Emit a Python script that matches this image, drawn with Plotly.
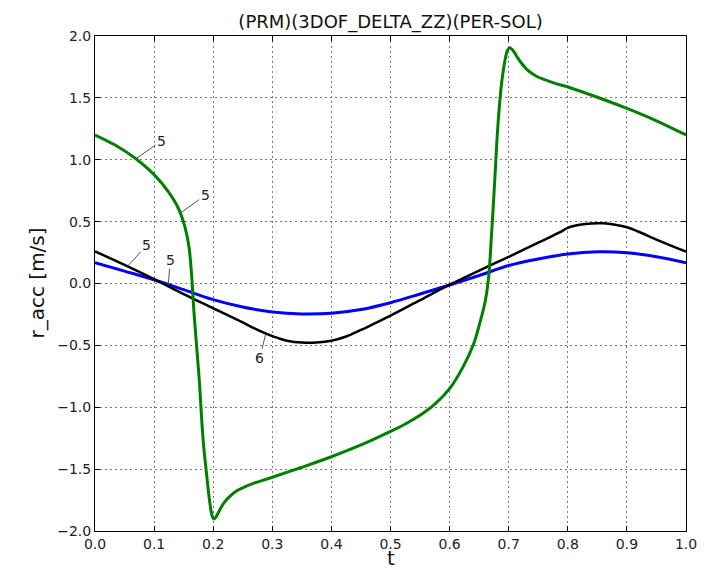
import numpy as np
import plotly.graph_objects as go

# --- series: t vs r_acc ---
green_t = [0.0, 0.034, 0.068, 0.100, 0.124, 0.141, 0.152, 0.159, 0.1636, 0.167,
           0.171, 0.176, 0.183, 0.189, 0.194, 0.198, 0.201, 0.205, 0.211, 0.217,
           0.228, 0.240, 0.255, 0.268, 0.300, 0.350, 0.400, 0.450, 0.500, 0.525,
           0.550, 0.575, 0.600, 0.623, 0.640, 0.651, 0.660, 0.666, 0.671, 0.676,
           0.680, 0.684, 0.688, 0.694, 0.698, 0.702, 0.707, 0.713, 0.720, 0.733,
           0.747, 0.775, 0.804, 0.850, 0.900, 0.950, 1.0]
green_v = [1.20, 1.119, 1.012, 0.88, 0.742, 0.608, 0.459, 0.297, 0.06, -0.2,
           -0.45, -0.75, -1.265, -1.55, -1.76, -1.875, -1.903, -1.885, -1.83, -1.78,
           -1.72, -1.675, -1.64, -1.615, -1.566, -1.485, -1.40, -1.305, -1.195, -1.135,
           -1.065, -0.975, -0.85, -0.672, -0.497, -0.322, -0.15, 0.05, 0.40, 0.80,
           1.15, 1.42, 1.62, 1.81, 1.885, 1.906, 1.885, 1.84, 1.79, 1.72,
           1.675, 1.623, 1.582, 1.505, 1.415, 1.315, 1.20]

black_t = [0.0, 0.05, 0.10, 0.15, 0.20, 0.25, 0.275, 0.30, 0.325, 0.35, 0.375,
           0.40, 0.425, 0.45, 0.475, 0.50, 0.55, 0.60, 0.65, 0.70, 0.75, 0.787,
           0.80, 0.82, 0.84, 0.86, 0.88, 0.90, 0.92, 0.95, 1.0]
black_v = [0.26, 0.15, 0.035, -0.085, -0.20, -0.315, -0.375, -0.425, -0.462, -0.477,
           -0.476, -0.462, -0.428, -0.375, -0.318, -0.26, -0.135, -0.01, 0.105, 0.215,
           0.33, 0.415, 0.45, 0.474, 0.485, 0.486, 0.475, 0.455, 0.418, 0.355, 0.257]

blue_t = [0.0, 0.05, 0.10, 0.15, 0.20, 0.25, 0.30, 0.35, 0.40, 0.45, 0.50, 0.55,
          0.60, 0.65, 0.70, 0.75, 0.80, 0.85, 0.90, 0.95, 1.0]
blue_v = [0.168, 0.10, 0.03, -0.05, -0.13, -0.19, -0.23, -0.246, -0.24, -0.21,
          -0.155, -0.085, -0.012, 0.065, 0.145, 0.198, 0.238, 0.256, 0.249, 0.217, 0.168]

# inline level labels: text, which series, t where the leader touches the curve
label_text = ["5", "5", "5", "5", "6"]
label_series = ["green", "green", "black", "blue", "black"]
label_t = [0.069, 0.144, 0.055, 0.124, 0.289]

x_ticks = [0.0, 0.1, 0.2, 0.3, 0.4, 0.5, 0.6, 0.7, 0.8, 0.9, 1.0]
y_ticks = [-2.0, -1.5, -1.0, -0.5, 0.0, 0.5, 1.0, 1.5, 2.0]

series = {
    "blue": (blue_t, blue_v, "#0000ff", 3),
    "black": (black_t, black_v, "#000000", 2.5),
    "green": (green_t, green_v, "#008000", 3),
}

FONT = "DejaVu Sans"
fig = go.Figure()
for name in ["blue", "black", "green"]:
    t, v, col, w = series[name]
    fig.add_trace(go.Scatter(x=t, y=v, mode="lines", name=name,
                             line=dict(color=col, width=w, shape="spline", smoothing=1.0),
                             showlegend=False, hoverinfo="skip"))

# leader-line offsets (px) of each label from its anchor on the curve
label_offsets = [(26, -18), (25, -18), (19, -21), (2, -25), (-6, 25)]
for txt, s, tt, (dx, dy) in zip(label_text, label_series, label_t, label_offsets):
    t, v, _, _ = series[s]
    fig.add_annotation(x=tt, y=float(np.interp(tt, t, v)), text=txt, showarrow=True,
                       ax=dx, ay=dy, arrowhead=0, arrowwidth=1, arrowcolor="#555555",
                       standoff=0, font=dict(family=FONT, size=14, color="#222222"))

# axis titles
fig.add_annotation(text="t", xref="paper", yref="paper", x=0.5, y=0, yshift=-27,
                   xanchor="center", yanchor="middle", showarrow=False,
                   font=dict(family=FONT, size=20, color="#111111"))
fig.add_annotation(text="r_acc [m/s]", xref="paper", yref="paper", x=0, y=0.5, xshift=-59,
                   xanchor="center", yanchor="middle", textangle=-90, showarrow=False,
                   font=dict(family=FONT, size=20, color="#111111"))

axis_common = dict(showline=True, linecolor="black", linewidth=1, mirror="ticks",
                   ticks="inside", ticklen=5, tickcolor="black", tickwidth=1,
                   showgrid=True, gridcolor="#777777", gridwidth=1, griddash="2px,3px",
                   zeroline=False, automargin=False,
                   tickfont=dict(family=FONT, size=14, color="#222222"))

fig.update_xaxes(range=[0, 1], tickvals=x_ticks, tickformat=".1f", **axis_common)
fig.update_yaxes(range=[-2, 2], tickvals=y_ticks, tickformat=".1f", **axis_common)

fig.update_layout(
    width=712, height=570,
    margin=dict(l=95, r=26, t=36, b=39),
    paper_bgcolor="white", plot_bgcolor="white",
    title=dict(text="(PRM)(3DOF_DELTA_ZZ)(PER-SOL)", x=0.5485, xanchor="center",
               y=1 - 22 / 570, yanchor="middle", yref="container",
               font=dict(family=FONT, size=18, color="#111111")),
)

fig.write_html("out.html")
